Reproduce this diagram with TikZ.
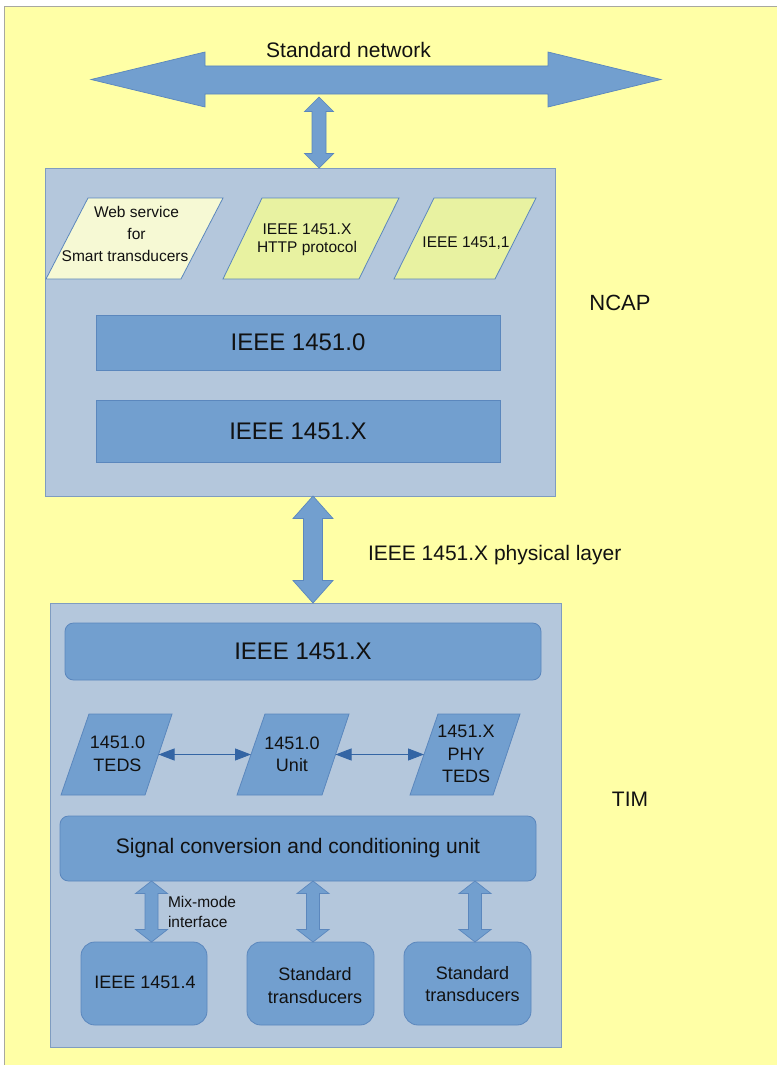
\documentclass[tikz,border=0pt]{standalone}
\usepackage{fontspec}
\setmainfont{Liberation Sans}
\usetikzlibrary{arrows.meta}

\definecolor{bgyellow}{HTML}{FFFFA6}
\definecolor{framecol}{HTML}{A8A8A0}
\definecolor{panelfill}{HTML}{B4C7DC}
\definecolor{panelline}{HTML}{7F9CC0}
\definecolor{barfill}{HTML}{729FCF}
\definecolor{barline}{HTML}{5B87BD}
\definecolor{limefour}{HTML}{F6F9D4}
\definecolor{limethree}{HTML}{E8F2A1}
\definecolor{linkcol}{HTML}{3465A4}
\definecolor{textcol}{HTML}{111111}

\newcommand\fs[2]{\fontsize{#1}{#2}\selectfont}
% vertical double block arrow: x, y top, y bottom, head half width, shaft half width, head length
\newcommand\fatv[6]{%
  \path[fatarrow] (#1,#2) -- (#1+#4,#2+#6) -- (#1+#5,#2+#6) -- (#1+#5,#3-#6)
    -- (#1+#4,#3-#6) -- (#1,#3) -- (#1-#4,#3-#6) -- (#1-#5,#3-#6)
    -- (#1-#5,#2+#6) -- (#1-#4,#2+#6) -- cycle;}

\begin{document}
\begin{tikzpicture}[x=1pt,y=-1pt,
  every node/.style={inner sep=0pt, outer sep=0pt, text=textcol},
  panel/.style={draw=panelline, fill=panelfill, line width=0.9pt},
  bar/.style={draw=barline, fill=barfill, line width=0.8pt},
  roundbar/.style={bar, rounded corners=8.5pt},
  devbox/.style={bar, rounded corners=14pt},
  slant/.style={draw=barline, line width=0.8pt, line join=miter},
  fatarrow/.style={draw=barline, fill=barfill, line width=0.7pt, line join=miter},
  link/.style={draw=linkcol, line width=0.9pt,
    {Triangle[length=16pt,width=12pt]}-{Triangle[length=16pt,width=12pt]}},
]
\useasboundingbox (0,0) rectangle (777,1065);

% sheet
\fill[bgyellow] (4.5,6.5) rectangle (777,1065);
\draw[framecol, line width=0.9pt] (4.5,1065) -- (4.5,6.5) -- (777,6.5);

% network bus
\path[fatarrow] (91,79.5) -- (205,52) -- (205,66) -- (548,66) -- (548,52) -- (661,79.5)
  -- (548,107) -- (548,94) -- (205,94) -- (205,107) -- cycle;
\node[font=\fs{21}{25}, anchor=base] (netlabel) at (348.5,58) {Standard network};

% the two modules
\node[panel, minimum width=510pt, minimum height=328pt] (ncap) at (300.5,332) {};
\node[panel, minimum width=510.5pt, minimum height=444.5pt] (tim) at (305.75,825.25) {};

\node[font=\fs{22}{26}, anchor=base] (ncaplabel) at (620,310) {NCAP};
\node[font=\fs{21}{25}, anchor=base] (timlabel) at (630,806) {TIM};
\node[font=\fs{21}{25}, anchor=base west] (phylabel) at (368,560) {IEEE 1451.X physical layer};

% block arrows between levels
\fatv{319}{97}{168}{14.5}{7}{14.5}
\fatv{313}{496}{603}{20}{9.5}{22.5}

% NCAP content
\path[slant, fill=limefour]  (88,198) -- (223,198) -- (181,279) -- (46,279) -- cycle;
\path[slant, fill=limethree] (262,198) -- (399,198) -- (359,279) -- (223,279) -- cycle;
\path[slant, fill=limethree] (434,198) -- (536,198) -- (495,279) -- (394,279) -- cycle;
\node[font=\fs{15.5}{22}, align=center] (websvc) at (136.5,234.3)
  {Web service\\for\\Smart transducers\hspace*{23pt}};
\node[font=\fs{15.5}{18}, align=center] (http) at (307,240) {IEEE 1451.X\\HTTP protocol};
\node[font=\fs{15.5}{18}, anchor=base] (dotone) at (466,247) {IEEE 1451,1};

\node[bar, minimum width=404pt, minimum height=55pt, font=\fs{24}{28}] (ncapzero) at (298,342.5) {IEEE 1451.0};
\node[bar, minimum width=404pt, minimum height=62pt, font=\fs{24}{28}] (ncapx) at (298,431) {IEEE 1451.X};

% TIM content
\node[roundbar, minimum width=476pt, minimum height=57pt, font=\fs{24}{28}] (timx) at (303,651.5) {IEEE 1451.X};

\path[slant, fill=barfill] (89,714) -- (172,714) -- (145,795) -- (61,795) -- cycle;
\path[slant, fill=barfill] (265,714) -- (349,714) -- (322,795) -- (237,795) -- cycle;
\path[slant, fill=barfill] (438,714) -- (520,714) -- (493,795) -- (410,795) -- cycle;
\coordinate (tedsE) at (158.5,754.5);
\coordinate (unitW) at (251,754.5);
\coordinate (unitE) at (335.5,754.5);
\coordinate (phyW)  at (424,754.5);
\draw[link] (tedsE) -- (unitW);
\draw[link] (unitE) -- (phyW);
\node[font=\fs{18}{23}, align=center] (teds) at (117.5,754) {1451.0\\TEDS};
\node[font=\fs{18}{22}, align=center] (unit) at (292,754.5) {1451.0\\Unit};
\node[font=\fs{18}{22.5}, align=center] (phyteds) at (466,754) {1451.X\\PHY\\TEDS};

\node[roundbar, minimum width=476pt, minimum height=65pt, font=\fs{21}{25}] (signal) at (298,848.5)
  {Signal conversion and conditioning unit};

\node[devbox, minimum width=126pt, minimum height=83pt] (devone) at (144,983.5) {};
\node[devbox, minimum width=127pt, minimum height=83pt] (devtwo) at (310.5,983.5) {};
\node[devbox, minimum width=127pt, minimum height=83pt] (devthree) at (467.5,983.5) {};
\node[font=\fs{18}{22}, anchor=base] (devonetext) at (145,988) {IEEE 1451.4};
\node[font=\fs{18}{23}, align=center] (devtwotext) at (315,986) {Standard\\transducers};
\node[font=\fs{18}{22}, align=center] (devthreetext) at (472.5,984.5) {Standard\\transducers};

\fatv{151.5}{881}{942}{16}{6.5}{12.5}
\fatv{313}{881}{942}{16}{6.5}{12.5}
\fatv{475}{881}{942}{16}{6.5}{12.5}
\node[font=\fs{15.5}{20.5}, align=left, anchor=west] (mixlabel) at (168,911.7) {Mix-mode\\interface};

\end{tikzpicture}
\end{document}
